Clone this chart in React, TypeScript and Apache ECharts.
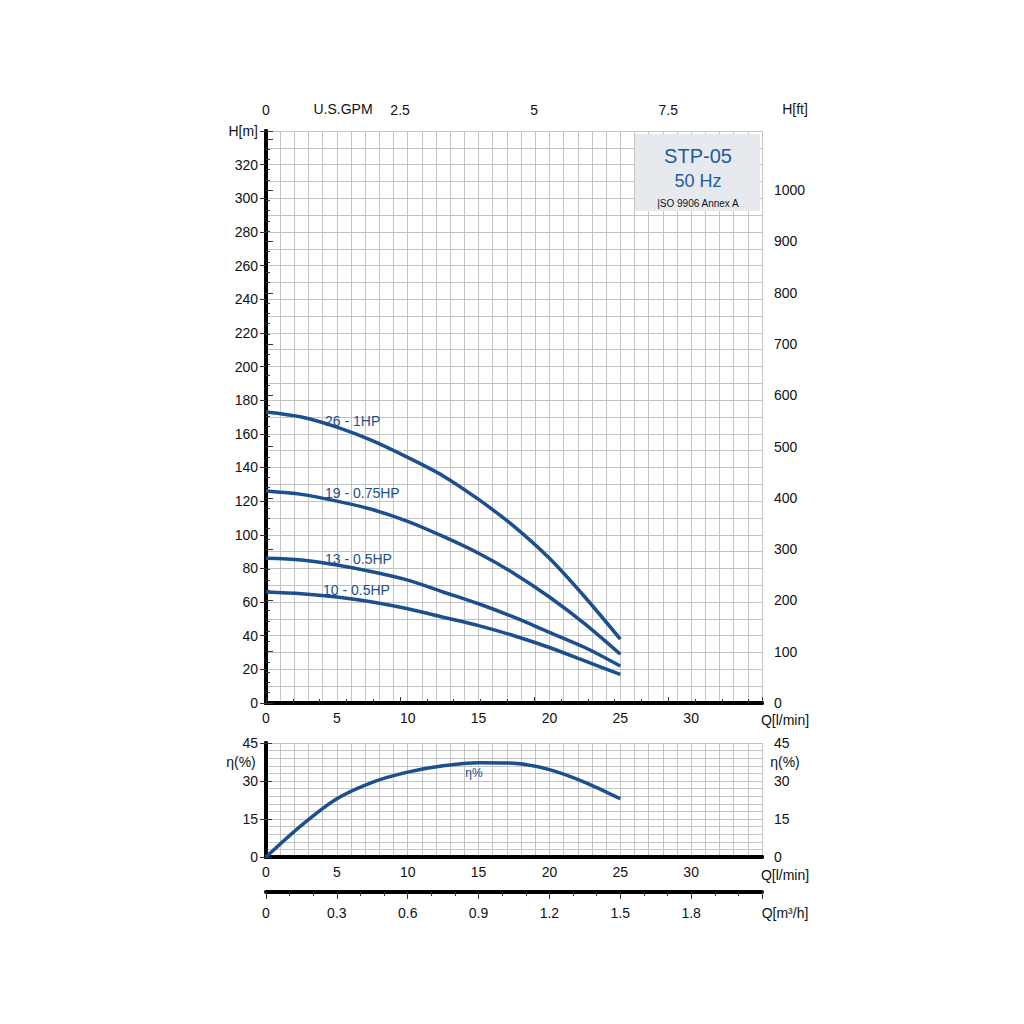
import React, { useEffect, useRef } from "react";
import * as echarts from "echarts";

const flow = [0, 2.5, 5, 7.5, 10, 12.5, 15, 17.5, 20, 22.5, 25];
const head26 = [173, 170, 164, 156, 146, 135, 121, 105, 86, 63, 38];
const head19 = [126, 124, 120, 115, 108, 99, 89, 77, 63, 47, 29];
const head13 = [86, 85, 82, 78, 73, 66, 59, 51, 42, 33, 22];
const head10 = [66, 65, 63, 60, 56, 51, 46, 40, 33, 25, 17];
const effFlow = [0, 2.5, 5, 7.5, 10, 12.5, 15, 17.5, 20, 22.5, 25];
const effVal = [0, 12.5, 23, 29.5, 33.5, 36, 37.2, 37, 34.5, 29.5, 23];
const curveNames = ["26 - 1HP", "19 - 0.75HP", "13 - 0.5HP", "10 - 0.5HP"];

const BLUE = "#1b4f8e";
const FONT = "Liberation Sans, Arial, sans-serif";

export default function App() {
  const ref = useRef<HTMLDivElement>(null);
  useEffect(() => {
    const chart = echarts.init(ref.current!, null, { renderer: "svg" });
    const axLine = { show: true, lineStyle: { color: "#000", width: 4 } };
    const lbl = { color: "#111", fontSize: 14, fontFamily: FONT };
    const grid = { lineStyle: { color: "#c4c4c4", width: 1 } };
    const pairs = (xs: number[], ys: number[]) => xs.map((x, i) => [x, ys[i]]);
    const heads = [head26, head19, head13, head10];
    const t = (x: number, y: number, text: string, o: any = {}) => ({
      type: "text", x, y, z: 100, style: { text, fill: "#111", font: `14px ${FONT}`, textAlign: "center", textVerticalAlign: "middle", ...o },
    });
    chart.setOption({
      animation: false,
      backgroundColor: "#fff",
      grid: [
        { left: 266, top: 131, width: 496, height: 572 },
        { left: 266, top: 743, width: 496, height: 114 },
      ],
      xAxis: [
        { type: "value", gridIndex: 0, min: 0, max: 35, interval: 5, axisLine: axLine,
          axisTick: { show: false }, axisLabel: { ...lbl, formatter: (v: number) => (v >= 35 ? "" : String(v)) },
          splitLine: grid, minorTick: { show: false, splitNumber: 5 }, minorSplitLine: { show: true, ...grid } },
        { type: "value", gridIndex: 0, position: "top", min: 0, max: 35 / 3.785, interval: 2.5, axisLine: axLine,
          axisTick: { show: true, length: 6, lineStyle: { color: "#333" } },
          minorTick: { show: true, splitNumber: 5, length: 4, lineStyle: { color: "#333" } },
          axisLabel: { ...lbl, margin: 14, formatter: (v: number) => (v > 7.6 ? "" : String(v)) }, splitLine: { show: false } },
        { type: "value", gridIndex: 1, min: 0, max: 35, interval: 5, axisLine: axLine,
          axisTick: { show: false }, axisLabel: { ...lbl, formatter: (v: number) => (v >= 35 ? "" : String(v)) },
          splitLine: grid, minorTick: { show: false, splitNumber: 5 }, minorSplitLine: { show: true, ...grid } },
        { type: "value", gridIndex: 1, position: "top", min: 0, max: 35, axisLine: axLine,
          axisTick: { show: false }, axisLabel: { show: false }, splitLine: { show: false } },
        { type: "value", gridIndex: 1, position: "bottom", offset: 35, min: 0, max: 2.1, interval: 0.3, axisLine: axLine,
          axisTick: { show: true, length: 7, lineStyle: { color: "#333" } },
          minorTick: { show: true, splitNumber: 3, length: 4, lineStyle: { color: "#333" } },
          axisLabel: { ...lbl, margin: 14, formatter: (v: number) => (v > 2 ? "" : String(Math.round(v * 10) / 10)) },
          splitLine: { show: false } },
      ],
      yAxis: [
        { type: "value", gridIndex: 0, min: 0, max: 340, interval: 20, axisLine: axLine,
          axisTick: { show: true, length: 6, lineStyle: { color: "#333" } },
          axisLabel: { ...lbl, formatter: (v: number) => (v >= 340 ? "H[m]" : String(v)) },
          splitLine: grid, minorTick: { show: false, splitNumber: 2 }, minorSplitLine: { show: true, ...grid } },
        { type: "value", gridIndex: 0, position: "right", min: 0, max: 340 * 3.2808, interval: 100, axisLine: axLine,
          axisTick: { show: true, length: 7, lineStyle: { color: "#333" } },
          minorTick: { show: true, splitNumber: 5, length: 4, lineStyle: { color: "#333" } },
          axisLabel: { ...lbl, margin: 12, formatter: (v: number) => (v > 1000 ? "" : String(v)) }, splitLine: { show: false } },
        { type: "value", gridIndex: 1, min: 0, max: 45, interval: 15, axisLine: axLine,
          axisTick: { show: true, length: 6, lineStyle: { color: "#333" } }, axisLabel: lbl,
          splitLine: grid, minorTick: { show: false, splitNumber: 5 }, minorSplitLine: { show: true, ...grid } },
        { type: "value", gridIndex: 1, position: "right", min: 0, max: 45, interval: 15, axisLine: axLine,
          axisTick: { show: true, length: 6, lineStyle: { color: "#333" } }, axisLabel: { ...lbl, margin: 12 }, splitLine: { show: false } },
      ],
      series: [
        ...heads.map((h, i) => ({
          type: "line", name: curveNames[i], xAxisIndex: 0, yAxisIndex: 0, smooth: 0.3, symbol: "none",
          data: pairs(flow, h), lineStyle: { color: BLUE, width: 3.5 },
        })),
        { type: "line", name: "η%", xAxisIndex: 2, yAxisIndex: 2, smooth: 0.3, symbol: "none",
          data: pairs(effFlow, effVal), lineStyle: { color: BLUE, width: 3.5 } },
      ],
      graphic: [
        t(343, 109, "U.S.GPM"),
        t(795, 109, "H[ft]"),
        t(785, 720, "Q[l/min]"),
        t(785, 875, "Q[l/min]"),
        t(785, 913, "Q[m³/h]"),
        t(241, 762, "η(%)"),
        t(785, 762, "η(%)"),
        { type: "rect", z: 99, shape: { x: 635, y: 134, width: 125, height: 77 }, style: { fill: "#e6eaee" } },
        t(698, 156, "STP-05", { fill: "#1f5b9c", font: `20px ${FONT}` }),
        t(698, 181, "50 Hz", { fill: "#1f5b9c", font: `18px ${FONT}` }),
        t(698, 203, "|SO 9906 Annex A", { font: `10px ${FONT}` }),
        t(325, 421, curveNames[0], { fill: BLUE, textAlign: "left" }),
        t(325, 493, curveNames[1], { fill: BLUE, textAlign: "left" }),
        t(325, 559, curveNames[2], { fill: BLUE, textAlign: "left" }),
        t(323, 590, curveNames[3], { fill: BLUE, textAlign: "left" }),
        t(474, 773, "η%", { fill: BLUE, font: `12px ${FONT}` }),
      ],
    });
    return () => chart.dispose();
  }, []);
  return <div ref={ref} style={{ position: "fixed", left: 0, top: 0, width: 1024, height: 1024 }} />;
}
